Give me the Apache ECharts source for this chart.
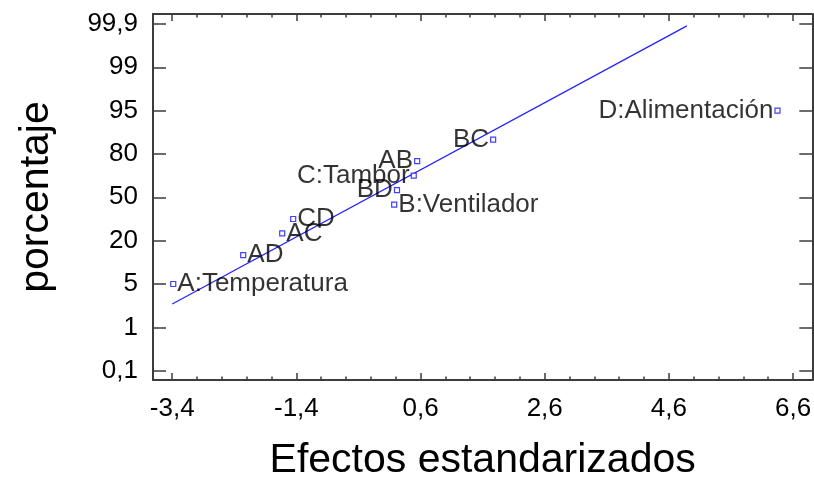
<!DOCTYPE html>
<html>
<head>
<meta charset="utf-8">
<script src="https://cdn.jsdelivr.net/npm/echarts@6/dist/echarts.min.js"></script>
<style>
  html, body { margin: 0; padding: 0; background: #ffffff; }
  #chart { width: 814px; height: 477px; }
</style>
</head>
<body>
<div id="chart"></div>
<script>
// Normal probability plot of standardized effects
const effectNames = ['A:Temperatura', 'B:Ventilador', 'C:Tambor', 'D:Alimentación',
                     'AB', 'AC', 'AD', 'BC', 'BD', 'CD'];
const effectValues = [-3.384, 0.175, 0.49, 6.349, 0.545, -1.629, -2.257, 1.769, 0.22, -1.452];
const effectPercent = [5, 45, 65, 95, 75, 25, 15, 85, 55, 35];
// which side of the marker each label sits on
const labelSide = ['right', 'right', 'left', 'left', 'left', 'right', 'right', 'left', 'left', 'right'];

// reference line (two end points)
const lineX = [-3.4, 4.89];
const linePercent = [3.16, 99.86];

// axis tick labels
const percentTicks = [0.1, 1, 5, 20, 50, 80, 95, 99, 99.9];
const percentTickLabels = ['0,1', '1', '5', '20', '50', '80', '95', '99', '99,9'];
const xTicks = [-3.4, -1.4, 0.6, 2.6, 4.6, 6.6];

// the percentage scale puts its labelled values at equal steps
function toScale(p) {
  const t = percentTicks;
  let i = 0;
  if (p >= t[t.length - 1]) i = t.length - 2;
  else { while (i < t.length - 2 && p > t[i + 1]) i++; }
  return i + (p - t[i]) / (t[i + 1] - t[i]);
}

const X_MIN = -3.71, X_MAX = 6.91;
const Y_MIN = -0.215, Y_MAX = 8.23;
const yTickPos = percentTicks.map((p, i) => i);

const minorX = [];
for (let i = 0; i < xTicks.length - 1; i++) {
  const step = (xTicks[i + 1] - xTicks[i]) / 5;
  for (let k = 1; k < 5; k++) minorX.push(+(xTicks[i] + k * step).toFixed(4));
}

const frameColor = '#3c3c3c';
const fontFamily = 'Liberation Sans, Arial, sans-serif';
const labelFont = { fontFamily: fontFamily, fontSize: 26, color: '#000000' };

function xAxisDef(position, ticks, len, showLine, showLabels) {
  return {
    type: 'value', position: position, min: X_MIN, max: X_MAX,
    axisLine: { show: showLine, onZero: false, lineStyle: { color: frameColor, width: 2 } },
    axisTick: { show: true, inside: true, length: len, customValues: ticks,
                lineStyle: { color: frameColor, width: 1.5 } },
    axisLabel: showLabels ? Object.assign({ show: true, margin: 16, customValues: ticks,
                formatter: v => String(+v.toFixed(1)).replace('.', ',') }, labelFont) : { show: false },
    splitLine: { show: false }
  };
}

const points = effectNames.map((n, i) => ({
  name: n,
  value: [effectValues[i], toScale(effectPercent[i])],
  label: Object.assign({ show: true, position: labelSide[i], distance: 1, formatter: n,
                         textBorderWidth: 0 }, labelFont)
}));

const chart = echarts.init(document.getElementById('chart'));
chart.setOption({
  animation: false,
  backgroundColor: '#ffffff',
  grid: { left: 153, top: 14, right: 1.7, bottom: 97, containLabel: false, outerBoundsMode: 'none' },
  xAxis: [
    Object.assign(xAxisDef('bottom', xTicks, 7, true, true), {
      name: 'Efectos estandarizados', nameLocation: 'middle', nameGap: 60, nameMoveOverlap: false,
      nameTextStyle: { fontFamily: fontFamily, fontSize: 41, color: '#000000' }
    }),
    xAxisDef('bottom', minorX, 3.5, false, false),
    xAxisDef('top', xTicks, 7, true, false),
    xAxisDef('top', minorX, 3.5, false, false)
  ],
  yAxis: [
    {
      type: 'value', position: 'left', min: Y_MIN, max: Y_MAX,
      name: 'porcentaje', nameLocation: 'middle', nameGap: 96, nameRotate: 90, nameMoveOverlap: false,
      nameTextStyle: { fontFamily: fontFamily, fontSize: 41, color: '#000000' },
      axisLine: { show: true, onZero: false, lineStyle: { color: frameColor, width: 2 } },
      axisTick: { show: true, inside: true, length: 13, customValues: yTickPos,
                  lineStyle: { color: frameColor, width: 1.5 } },
      axisLabel: Object.assign({ show: true, margin: 15, customValues: yTickPos,
                  formatter: v => percentTickLabels[Math.round(v)] }, labelFont),
      splitLine: { show: false }
    },
    {
      type: 'value', position: 'right', min: Y_MIN, max: Y_MAX,
      axisLine: { show: true, onZero: false, lineStyle: { color: frameColor, width: 2 } },
      axisTick: { show: true, inside: true, length: 13, customValues: yTickPos,
                  lineStyle: { color: frameColor, width: 1.5 } },
      axisLabel: { show: false },
      splitLine: { show: false }
    }
  ],
  series: [
    {
      type: 'line',
      xAxisIndex: 0, yAxisIndex: 0,
      data: lineX.map((x, i) => [x, toScale(linePercent[i])]),
      showSymbol: false, symbol: 'none',
      lineStyle: { color: '#2020ff', width: 1.2 },
      z: 2, silent: true
    },
    {
      type: 'scatter',
      xAxisIndex: 0, yAxisIndex: 0,
      data: points,
      symbol: 'rect', symbolSize: 5,
      itemStyle: { color: '#ffffff', borderColor: '#1010ff', borderWidth: 1.2 },
      label: Object.assign({ show: true }, labelFont),
      z: 3
    }
  ]
});
</script>
</body>
</html>
